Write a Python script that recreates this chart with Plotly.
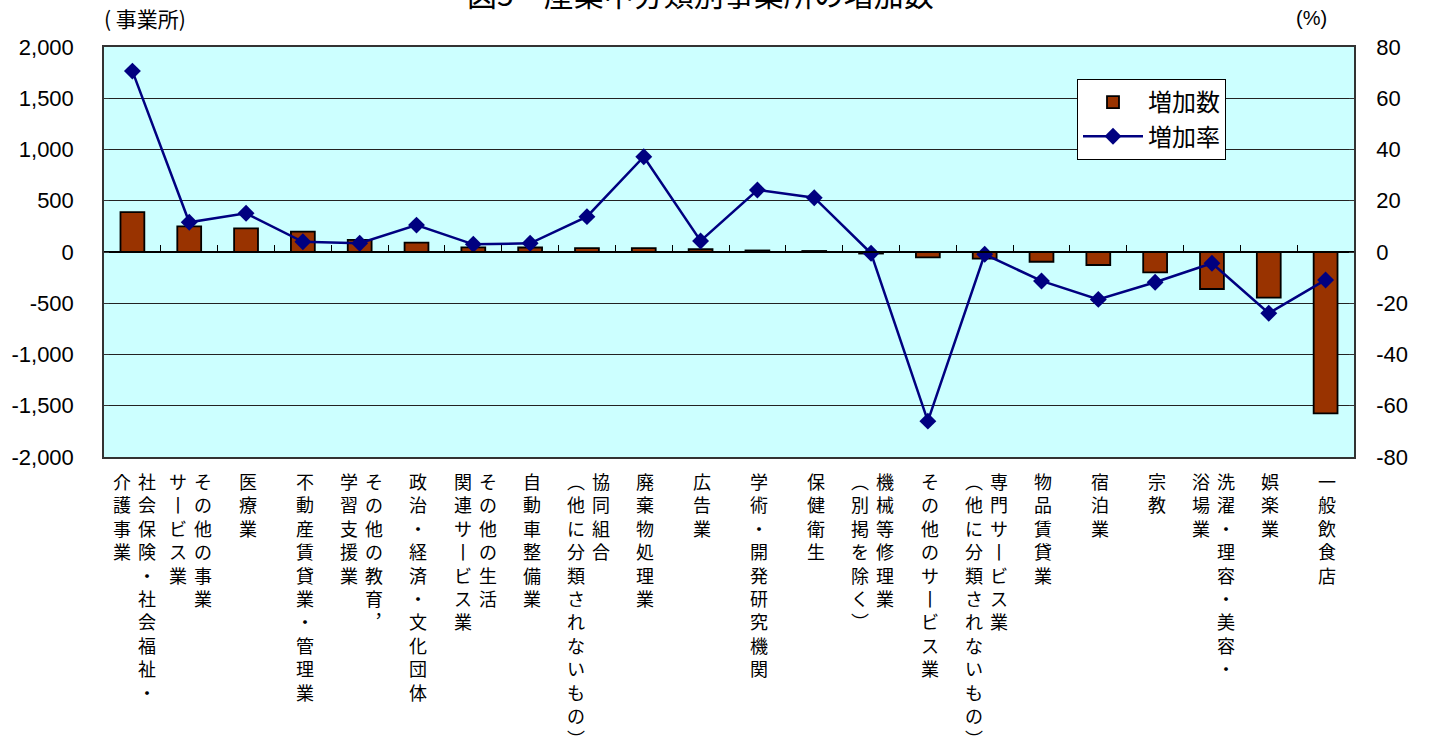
import plotly.graph_objects as go

# ---------------- data ----------------
category_columns = [
    ["社会保険・社会福祉・", "介護事業"],
    ["その他の事業", "サービス業"],
    ["医療業"],
    ["不動産賃貸業・管理業"],
    ["その他の教育，", "学習支援業"],
    ["政治・経済・文化団体"],
    ["その他の生活", "関連サービス業"],
    ["自動車整備業"],
    ["協同組合", "（他に分類されないもの）"],
    ["廃棄物処理業"],
    ["広告業"],
    ["学術・開発研究機関"],
    ["保健衛生"],
    ["機械等修理業", "（別掲を除く）"],
    ["その他のサービス業"],
    ["専門サービス業", "（他に分類されないもの）"],
    ["物品賃貸業"],
    ["宿泊業"],
    ["宗教"],
    ["洗濯・理容・美容・", "浴場業"],
    ["娯楽業"],
    ["一般飲食店"],
]
categories = ["".join(c) for c in category_columns]

increase_count = [390, 250, 231, 198, 118, 91, 46, 44, 38, 37, 27, 15, 10, -15,
                  -52, -65, -95, -127, -198, -361, -446, -1574]
increase_rate = [70.6, 11.6, 15.1, 4.0, 3.4, 10.5, 3.0, 3.4, 13.8, 37.2, 4.3, 24.2,
                 21.2, -0.5, -66.0, -0.9, -11.3, -18.5, -11.8, -4.4, -23.9, -10.9]

left_tick_vals = [-2000, -1500, -1000, -500, 0, 500, 1000, 1500, 2000]
left_tick_text = ["-2,000", "-1,500", "-1,000", "-500", "0", "500", "1,000", "1,500", "2,000"]
right_tick_vals = [-80, -60, -40, -20, 0, 20, 40, 60, 80]
right_tick_text = ["-80", "-60", "-40", "-20", "0", "20", "40", "60", "80"]

title_text = "図5　産業中分類別事業所の増加数"
left_unit = "( 事業所)"
right_unit = "(%)"
series_names = ["増加数", "増加率"]

# ---------------- figure ----------------
W, H = 1431, 753
L, R, T, B = 104, 1354, 47, 457
JP = "Noto Sans CJK JP"
NUM = "Liberation Sans, Arial, " + JP

xs = list(range(len(categories)))
xrange = [-0.5, len(categories) - 0.5]

fig = go.Figure()
fig.add_trace(go.Bar(
    x=xs, y=increase_count, name=series_names[0],
    xaxis="x", yaxis="y",
    width=0.42,
    marker=dict(color="#993300", line=dict(color="#000000", width=1.8)),
    legendgroup="a",
))
# invisible helper trace so the zero-line category axis (x2) is drawn
fig.add_trace(go.Scatter(
    x=[xs[0]], y=[0], xaxis="x2", yaxis="y", mode="markers",
    marker=dict(opacity=0, size=1), showlegend=False, hoverinfo="skip",
))
fig.add_trace(go.Scatter(
    x=xs, y=increase_rate, name=series_names[1],
    xaxis="x", yaxis="y2",
    mode="lines+markers",
    line=dict(color="#000080", width=2.5),
    marker=dict(symbol="diamond", size=13, color="#000080"),
    legendgroup="b",
))

fig.update_layout(
    width=W, height=H,
    margin=dict(l=L, r=W - R, t=T, b=H - B, pad=0),
    paper_bgcolor="white",
    plot_bgcolor="#CCFFFF",
    showlegend=True,
    xaxis=dict(
        range=xrange, showticklabels=False, showgrid=False, zeroline=False,
        showline=True, linecolor="#333333", linewidth=1.5, mirror=True, ticks="",
    ),
    xaxis2=dict(
        range=xrange, overlaying="x", anchor="free", position=0.5,
        showticklabels=False, showgrid=False, zeroline=False,
        showline=True, linecolor="#000000", linewidth=1.5,
        ticks="inside", ticklen=6, tickwidth=1, tickcolor="#000000",
        tickmode="array", tickvals=[i - 0.5 for i in range(len(categories) + 1)],
    ),
    yaxis=dict(
        range=[-2000, 2000], tickmode="array",
        tickvals=left_tick_vals, ticktext=left_tick_text,
        showgrid=True, gridcolor="#222222", gridwidth=1,
        zeroline=False, showline=True, linecolor="#333333", linewidth=1.5,
        ticks="inside", ticklen=5, tickcolor="#333333",
        ticklabelstandoff=24,
        tickfont=dict(family=NUM, size=22, color="#000000"),
    ),
    yaxis2=dict(
        range=[-80, 80], overlaying="y", side="right", anchor="x", tickmode="array",
        tickvals=right_tick_vals, ticktext=right_tick_text,
        showgrid=False, zeroline=False, showline=True, linecolor="#333333", linewidth=1.5,
        ticks="inside", ticklen=5, tickcolor="#333333",
        ticklabelstandoff=16,
        tickfont=dict(family=NUM, size=22, color="#000000"),
    ),
    legend=dict(
        x=(1077 - L) / (R - L), y=(B - 79) / (B - T), xanchor="left", yanchor="top",
        bgcolor="white", bordercolor="#000000", borderwidth=1,
        font=dict(family=JP, size=24, color="#000000"),
        itemwidth=60, tracegroupgap=12, traceorder="normal",
    ),
)

# vertical category labels
vert_map = {"ー": "丨", "（": "︵", "）": "︶", "，": "︐"}
col_off = 25 / ((R - L) / len(categories))
label_top = (B - 466) / (B - T)
for i, cols in enumerate(category_columns):
    n = len(cols)
    for j, col in enumerate(cols):
        # columns read right-to-left
        off = ((n - 1) / 2 - j) * col_off
        txt = "<br>".join(vert_map.get(ch, ch) for ch in col)
        fig.add_annotation(
            x=i + off + 0.03, xref="x", y=label_top, yref="paper",
            text=txt, showarrow=False, xanchor="center", yanchor="top",
            align="center", font=dict(family=JP, size=18, color="#000000"),
        )

def px_to_paper(px, py):
    return (px - L) / (R - L), (B - py) / (B - T)

ux, uy = px_to_paper(145, 18)
fig.add_annotation(x=ux, xref="paper", y=uy, yref="paper",
                   xanchor="center", yanchor="middle", showarrow=False,
                   text=left_unit, font=dict(family=JP, size=21, color="#000000"))
ux, uy = px_to_paper(1311, 18)
fig.add_annotation(x=ux, xref="paper", y=uy, yref="paper",
                   xanchor="center", yanchor="middle", showarrow=False,
                   text=right_unit, font=dict(family=NUM, size=20, color="#000000"))
ux, uy = px_to_paper(700, -7)
fig.add_annotation(x=ux, xref="paper", y=uy, yref="paper",
                   xanchor="center", yanchor="middle", showarrow=False,
                   text=title_text, font=dict(family=JP, size=30, color="#000000"))

fig.write_html("out.html")
